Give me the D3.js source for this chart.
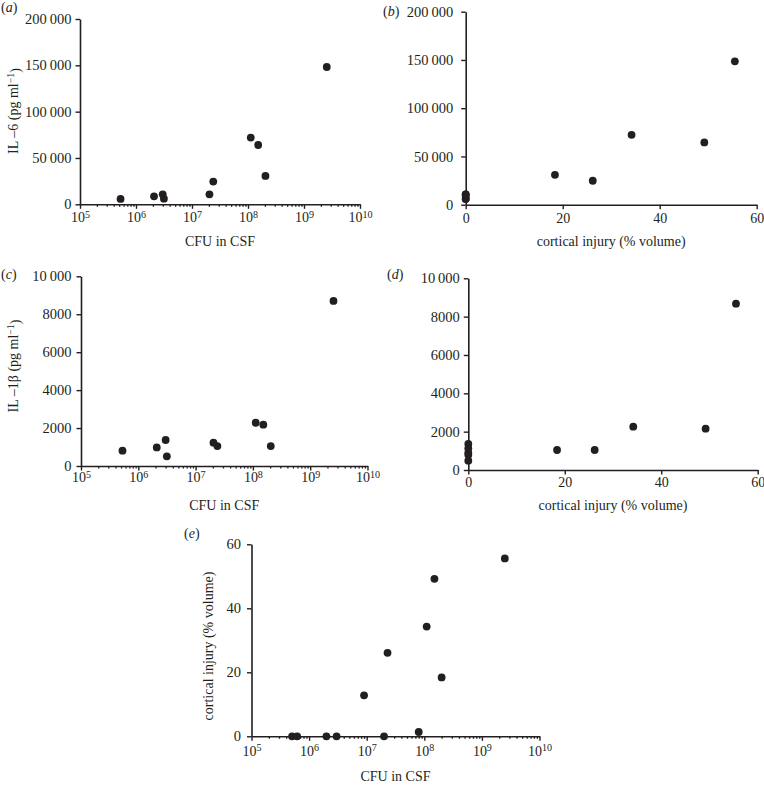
<!DOCTYPE html>
<html>
<head>
<meta charset="utf-8">
<script src="https://cdn.jsdelivr.net/npm/d3@7"></script>
<style>
  html, body { margin: 0; padding: 0; background: #ffffff; }
  svg text { font-family: "Liberation Serif", "Times New Roman", serif; fill: #231f20; }
</style>
</head>
<body>
<svg id="chart" width="764" height="786"></svg>
<script>
// ---------------- data ----------------
// panels (a)-(d): same animals
const cfu      = [5.3e5, 2.1e6, 3.0e6, 3.15e6, 2.05e7, 2.4e7, 1.12e8, 1.52e8, 2.05e8, 2.55e9];
const il6      = [5800, 8600, 10800, 6100, 10800, 24500, 72000, 64000, 30600, 148200];
const il1b     = [810, 980, 1370, 510, 1230, 1050, 2280, 2180, 1050, 8700];
const injuryBD = [0, 0, 0, 0, 0, 26.2, 34.2, 49.2, 18.4, 55.5];
const il6B     = [5800, 8600, 10800, 6100, 10800, 24800, 72400, 64500, 31000, 148600];
const il1bD    = [790, 904, 1357, 487, 1130, 1043, 2261, 2157, 1043, 8678];
// panel (e)
const cfuE     = [5.06e5, 6.2e5, 2.0e6, 3.0e6, 9.0e6, 2.0e7, 2.3e7, 8.0e7, 1.1e8, 1.5e8, 2.0e8, 2.5e9];
const injuryE  = [0, 0, 0, 0, 12.8, 0, 26.1, 1.35, 34.3, 49.2, 18.4, 55.6];

// tick values
const logMajor   = [1e5, 1e6, 1e7, 1e8, 1e9, 1e10];
const il6Ticks   = [0, 50000, 100000, 150000, 200000];
const il1bTicks  = [0, 2000, 4000, 6000, 8000, 10000];
const injTicks   = [0, 20, 40, 60];
const panelNames = ["a", "b", "c", "d", "e"];

// ---------------- drawing ----------------
const ink = "#231f20";
const svg = d3.select("#chart");

function fmtY(v) {
  if (v >= 10000) return d3.format(",")(v).replace(/,/g, "\u2009");
  return String(v);
}

const logMinor = [];
for (let e = 5; e < 10; e++) for (let m = 2; m <= 9; m++) logMinor.push(m * Math.pow(10, e));

function panel(cfg) {
  const g = svg.append("g");
  const x = cfg.log
    ? d3.scaleLog().domain([1e5, 1e10]).range(cfg.xr)
    : d3.scaleLinear().domain([0, 60]).range(cfg.xr);
  const y = d3.scaleLinear().domain(cfg.yd).range(cfg.yr);
  const y0 = cfg.yr[0];

  // x axis
  if (cfg.log) {
    const minor = g.append("g").attr("transform", `translate(0,${y0})`)
      .call(d3.axisBottom(x).tickValues(logMinor).tickSize(2.5).tickFormat(""));
    minor.select(".domain").remove();
    minor.selectAll("line").attr("stroke", ink).attr("stroke-width", 1.3);
  }
  const xa = g.append("g").attr("transform", `translate(0,${y0})`)
    .call(d3.axisBottom(x)
      .tickValues(cfg.log ? logMajor : injTicks)
      .tickSizeInner(4.5).tickSizeOuter(0)
      .tickPadding(cfg.xPad));
  xa.select(".domain").attr("stroke", ink).attr("stroke-width", 1.6);
  xa.selectAll("line").attr("stroke", ink).attr("stroke-width", 1.4);
  xa.selectAll("text").attr("font-size", 14).attr("fill", ink)
    .attr("font-family", '"Liberation Serif", serif');
  if (cfg.log) {
    xa.selectAll("text").each(function (d) {
      const t = d3.select(this).text("");
      t.append("tspan").text("10");
      t.append("tspan").attr("dy", "-0.45em").attr("font-size", "0.72em")
        .text(Math.round(Math.log10(d)));
    });
  }

  // y axis
  const ya = g.append("g").attr("transform", `translate(${cfg.xr[0]},0)`)
    .call(d3.axisLeft(y).tickValues(cfg.yTicks).tickSizeInner(4.5).tickSizeOuter(0)
      .tickPadding(cfg.yPad).tickFormat(fmtY));
  ya.select(".domain").attr("stroke", ink).attr("stroke-width", 1.6);
  ya.selectAll("line").attr("stroke", ink).attr("stroke-width", 1.4);
  ya.selectAll("text").attr("font-size", 14.5).attr("fill", ink)
    .attr("font-family", '"Liberation Serif", serif');

  // points
  g.append("g").selectAll("circle").data(cfg.xs.map((v, i) => [v, cfg.ys[i]]))
    .join("circle")
    .attr("cx", d => x(d[0])).attr("cy", d => y(d[1]))
    .attr("r", 3.9).attr("fill", ink);

  // x title
  g.append("text").attr("x", (cfg.xr[0] + cfg.xr[1]) / 2).attr("y", cfg.xTitleY)
    .attr("text-anchor", "middle").attr("font-size", 14).text(cfg.xTitle);

  // y title
  if (cfg.yTitle) {
    const t = g.append("text")
      .attr("transform", `translate(${cfg.yTitleX},${cfg.yTitleC}) rotate(-90)`)
      .attr("text-anchor", "middle").attr("font-size", 14);
    t.append("tspan").text(cfg.yTitle);
    if (cfg.ySup) {
      t.append("tspan").attr("dy", "-0.45em").attr("font-size", "0.7em").text(cfg.ySup);
      t.append("tspan").attr("dy", "0.45em").text(")");
    }
  }

  // panel letter
  const p = svg.append("text").attr("x", cfg.lab[0]).attr("y", cfg.lab[1]).attr("font-size", 14);
  p.append("tspan").text("(");
  p.append("tspan").attr("font-style", "italic").text(cfg.name);
  p.append("tspan").text(")");
}

panel({ name: panelNames[0], log: true, xr: [80, 360], yd: [0, 200000], yr: [204.3, 19],
  yTicks: il6Ticks, xs: cfu, ys: il6, xPad: 3.5, yPad: 4,
  xTitle: "CFU in CSF", xTitleY: 246,
  yTitle: "IL –6 (pg ml", ySup: "−1", yTitleX: 18, yTitleC: 111, lab: [1, 12] });

panel({ name: panelNames[1], log: false, xr: [465.7, 756.7], yd: [0, 200000], yr: [204.7, 11.7],
  yTicks: il6Ticks, xs: injuryBD, ys: il6B, xPad: 4, yPad: 8,
  xTitle: "cortical injury (% volume)", xTitleY: 246, lab: [383, 16] });

panel({ name: panelNames[2], log: true, xr: [81, 367.5], yd: [0, 10000], yr: [466, 276.3],
  yTicks: il1bTicks, xs: cfu, ys: il1b, xPad: 2, yPad: 5,
  xTitle: "CFU in CSF", xTitleY: 510,
  yTitle: "IL –1β (pg ml", ySup: "−1", yTitleX: 18, yTitleC: 366, lab: [1, 279] });

panel({ name: panelNames[3], log: false, xr: [468.3, 757.7], yd: [0, 10000], yr: [470, 278.3],
  yTicks: il1bTicks, xs: injuryBD, ys: il1bD, xPad: 3, yPad: 4,
  xTitle: "cortical injury (% volume)", xTitleY: 510, lab: [387, 279] });

panel({ name: panelNames[4], log: true, xr: [251.5, 539.5], yd: [0, 60], yr: [736.3, 544.3],
  yTicks: injTicks, xs: cfuE, ys: injuryE, xPad: 5, yPad: 6,
  xTitle: "CFU in CSF", xTitleY: 781,
  yTitle: "cortical injury (% volume)", yTitleX: 213, yTitleC: 646, lab: [184, 538] });
</script>
</body>
</html>
